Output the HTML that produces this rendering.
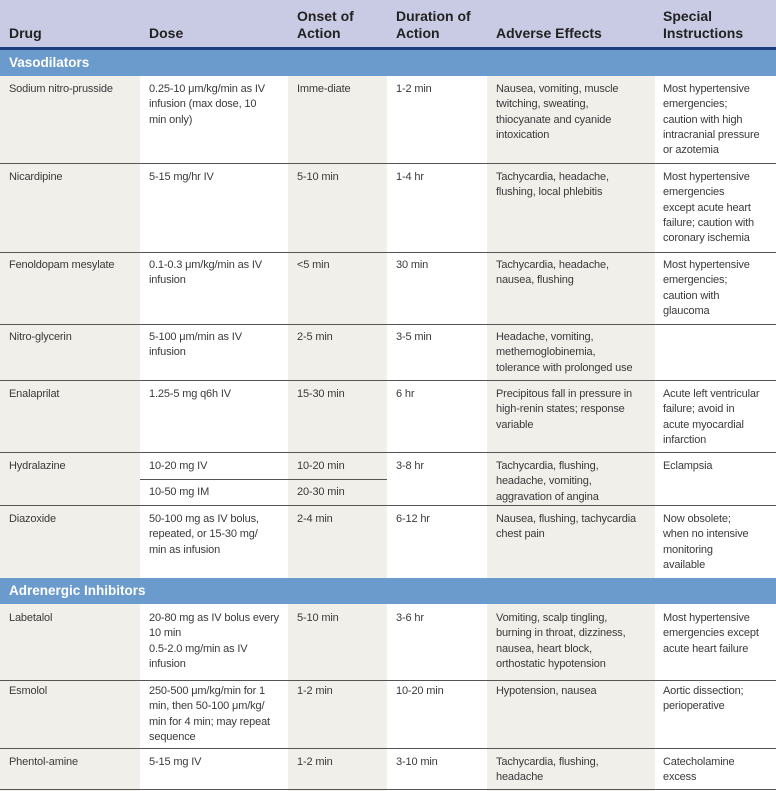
<!DOCTYPE html>
<html><head><meta charset="utf-8"><style>
body{margin:0;width:776px;height:791px;position:relative;overflow:hidden;background:#fff;font-family:"Liberation Sans",sans-serif}
.a{position:absolute}
.t{position:absolute;font-size:11px;line-height:15.3px;color:#3a3a3a;white-space:nowrap;letter-spacing:-0.15px}
.h{position:absolute;font-size:14px;line-height:17px;font-weight:bold;color:#222;white-space:nowrap}
.s{position:absolute;left:9px;font-size:13.5px;font-weight:bold;color:#fff}
.l{position:absolute;left:0;width:776px;height:1px;background:#555}
</style></head><body>
<div class="a" style="left:0;top:0;width:776px;height:47px;background:#c8cbe3"></div>
<div class="a" style="left:0;top:47px;width:776px;height:3px;background:#1f3c7c"></div>
<div class="a" style="left:0;top:76px;width:140px;height:715px;background:#f0efea"></div>
<div class="a" style="left:288px;top:76px;width:99px;height:715px;background:#f0efea"></div>
<div class="a" style="left:487px;top:76px;width:168px;height:715px;background:#f0efea"></div>
<div class="a" style="left:0;top:50px;width:776px;height:26px;background:#6b9bcc"></div>
<div class="a" style="left:0;top:578px;width:776px;height:26px;background:#6b9bcc"></div>
<div class="s" style="top:55px">Vasodilators</div>
<div class="s" style="top:583px">Adrenergic Inhibitors</div>

<div class="h" style="left:9px;top:25px">Drug</div>
<div class="h" style="left:149px;top:25px">Dose</div>
<div class="h" style="left:297px;top:8px">Onset of<br>Action</div>
<div class="h" style="left:396px;top:8px">Duration of<br>Action</div>
<div class="h" style="left:496px;top:25px">Adverse Effects</div>
<div class="h" style="left:663px;top:8px">Special<br>Instructions</div>

<div class="l" style="top:163px"></div>
<div class="l" style="top:252px"></div>
<div class="l" style="top:324px"></div>
<div class="l" style="top:380px"></div>
<div class="l" style="top:452px"></div>
<div class="a" style="left:140px;top:479px;width:247px;height:1px;background:#555"></div>
<div class="l" style="top:505px"></div>
<div class="l" style="top:680px"></div>
<div class="l" style="top:748px"></div>
<div class="l" style="top:789px"></div>

<!-- row 1 -->
<div class="t" style="left:9px;top:82px">Sodium nitro-prusside</div>
<div class="t" style="left:149px;top:82px">0.25-10 μm/kg/min as IV<br>infusion (max dose, 10<br>min only)</div>
<div class="t" style="left:297px;top:82px">Imme-diate</div>
<div class="t" style="left:396px;top:82px">1-2 min</div>
<div class="t" style="left:496px;top:82px">Nausea, vomiting, muscle<br>twitching, sweating,<br>thiocyanate and cyanide<br>intoxication</div>
<div class="t" style="left:663px;top:82px">Most hypertensive<br>emergencies;<br>caution with high<br>intracranial pressure<br>or azotemia</div>
<!-- nicardipine -->
<div class="t" style="left:9px;top:170px">Nicardipine</div>
<div class="t" style="left:149px;top:170px">5-15 mg/hr IV</div>
<div class="t" style="left:297px;top:170px">5-10 min</div>
<div class="t" style="left:396px;top:170px">1-4 hr</div>
<div class="t" style="left:496px;top:170px">Tachycardia, headache,<br>flushing, local phlebitis</div>
<div class="t" style="left:663px;top:170px">Most hypertensive<br>emergencies<br>except acute heart<br>failure; caution with<br>coronary ischemia</div>
<!-- fenoldopam -->
<div class="t" style="left:9px;top:258px">Fenoldopam mesylate</div>
<div class="t" style="left:149px;top:258px">0.1-0.3 μm/kg/min as IV<br>infusion</div>
<div class="t" style="left:297px;top:258px">&lt;5 min</div>
<div class="t" style="left:396px;top:258px">30 min</div>
<div class="t" style="left:496px;top:258px">Tachycardia, headache,<br>nausea, flushing</div>
<div class="t" style="left:663px;top:258px">Most hypertensive<br>emergencies;<br>caution with<br>glaucoma</div>
<!-- nitroglycerin -->
<div class="t" style="left:9px;top:330px">Nitro-glycerin</div>
<div class="t" style="left:149px;top:330px">5-100 μm/min as IV<br>infusion</div>
<div class="t" style="left:297px;top:330px">2-5 min</div>
<div class="t" style="left:396px;top:330px">3-5 min</div>
<div class="t" style="left:496px;top:330px">Headache, vomiting,<br>methemoglobinemia,<br>tolerance with prolonged use</div>
<!-- enalaprilat -->
<div class="t" style="left:9px;top:387px">Enalaprilat</div>
<div class="t" style="left:149px;top:387px">1.25-5 mg q6h IV</div>
<div class="t" style="left:297px;top:387px">15-30 min</div>
<div class="t" style="left:396px;top:387px">6 hr</div>
<div class="t" style="left:496px;top:387px">Precipitous fall in pressure in<br>high-renin states; response<br>variable</div>
<div class="t" style="left:663px;top:387px">Acute left ventricular<br>failure; avoid in<br>acute myocardial<br>infarction</div>
<!-- hydralazine -->
<div class="t" style="left:9px;top:459px">Hydralazine</div>
<div class="t" style="left:149px;top:459px">10-20 mg IV</div>
<div class="t" style="left:297px;top:459px">10-20 min</div>
<div class="t" style="left:149px;top:485px">10-50 mg IM</div>
<div class="t" style="left:297px;top:485px">20-30 min</div>
<div class="t" style="left:396px;top:459px">3-8 hr</div>
<div class="t" style="left:496px;top:459px">Tachycardia, flushing,<br>headache, vomiting,<br>aggravation of angina</div>
<div class="t" style="left:663px;top:459px">Eclampsia</div>
<!-- diazoxide -->
<div class="t" style="left:9px;top:512px">Diazoxide</div>
<div class="t" style="left:149px;top:512px">50-100 mg as IV bolus,<br>repeated, or 15-30 mg/<br>min as infusion</div>
<div class="t" style="left:297px;top:512px">2-4 min</div>
<div class="t" style="left:396px;top:512px">6-12 hr</div>
<div class="t" style="left:496px;top:512px">Nausea, flushing, tachycardia<br>chest pain</div>
<div class="t" style="left:663px;top:512px">Now obsolete;<br>when no intensive<br>monitoring<br>available</div>
<!-- labetalol -->
<div class="t" style="left:9px;top:611px">Labetalol</div>
<div class="t" style="left:149px;top:611px">20-80 mg as IV bolus every<br>10 min<br>0.5-2.0 mg/min as IV<br>infusion</div>
<div class="t" style="left:297px;top:611px">5-10 min</div>
<div class="t" style="left:396px;top:611px">3-6 hr</div>
<div class="t" style="left:496px;top:611px">Vomiting, scalp tingling,<br>burning in throat, dizziness,<br>nausea, heart block,<br>orthostatic hypotension</div>
<div class="t" style="left:663px;top:611px">Most hypertensive<br>emergencies except<br>acute heart failure</div>
<!-- esmolol -->
<div class="t" style="left:9px;top:684px">Esmolol</div>
<div class="t" style="left:149px;top:684px">250-500 μm/kg/min for 1<br>min, then 50-100 μm/kg/<br>min for 4 min; may repeat<br>sequence</div>
<div class="t" style="left:297px;top:684px">1-2 min</div>
<div class="t" style="left:396px;top:684px">10-20 min</div>
<div class="t" style="left:496px;top:684px">Hypotension, nausea</div>
<div class="t" style="left:663px;top:684px">Aortic dissection;<br>perioperative</div>
<!-- phentolamine -->
<div class="t" style="left:9px;top:755px">Phentol-amine</div>
<div class="t" style="left:149px;top:755px">5-15 mg IV</div>
<div class="t" style="left:297px;top:755px">1-2 min</div>
<div class="t" style="left:396px;top:755px">3-10 min</div>
<div class="t" style="left:496px;top:755px">Tachycardia, flushing,<br>headache</div>
<div class="t" style="left:663px;top:755px">Catecholamine<br>excess</div>
</body></html>
